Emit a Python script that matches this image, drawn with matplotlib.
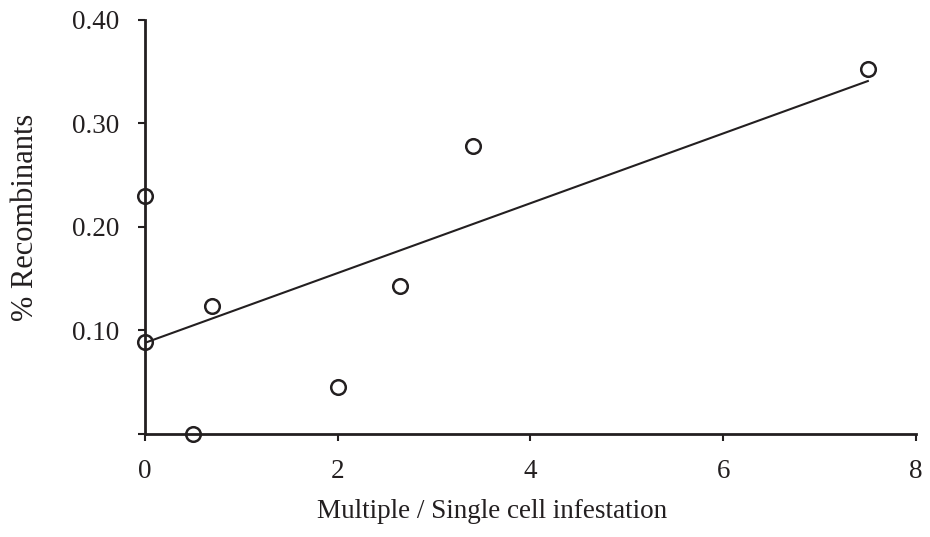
import matplotlib
matplotlib.use('Agg')
import matplotlib.pyplot as plt

# data
infestation = [0.0, 0.0, 0.5, 0.7, 2.0, 2.65, 3.4, 7.5]
recombinants = [0.23, 0.089, 0.0, 0.124, 0.045, 0.143, 0.278, 0.353]

trend_x = [0.0, 7.5]
trend_y = [0.088, 0.341]

x_ticks = [0, 2, 4, 6, 8]
y_ticks = [0.0, 0.1, 0.2, 0.3, 0.4]
y_labels = ['', '0.10', '0.20', '0.30', '0.40']

plt.rcParams['font.family'] = ['Liberation Serif', 'DejaVu Serif']

fig = plt.figure(figsize=(9.3, 5.37), dpi=100)
ax = fig.add_axes([0.1556, 0.1918, 0.985 - 0.1556, 0.9628 - 0.1918])

ax.plot(trend_x, trend_y, color='#231f20', lw=1.5, zorder=2)
ax.plot(infestation, recombinants, 'o', ms=10.5, mfc='none', mec='#231f20',
        mew=1.8, clip_on=False, zorder=3)

ax.set_xlim(0, 8)
ax.set_ylim(0, 0.4)
ax.set_xticks(x_ticks)
ax.set_yticks(y_ticks)
ax.set_yticklabels(y_labels)

for s in ['top', 'right']:
    ax.spines[s].set_visible(False)
for s in ['left', 'bottom']:
    ax.spines[s].set_linewidth(2)
    ax.spines[s].set_color('#231f20')

ax.tick_params(direction='out', length=5, width=1.5, color='#231f20',
               labelsize=19.5, labelcolor='#231f20')
ax.tick_params(axis='x', pad=13)
ax.tick_params(axis='y', pad=13.5)

ax.set_xlabel('Multiple / Single cell infestation', fontsize=19.5,
              color='#231f20', va='baseline')
ax.xaxis.set_label_coords(0.450, -0.203)
ax.set_ylabel('% Recombinants', fontsize=22, color='#231f20', va='center')
ax.yaxis.set_label_coords(-0.155, 0.523)

plt.savefig('out.png', dpi=100)
